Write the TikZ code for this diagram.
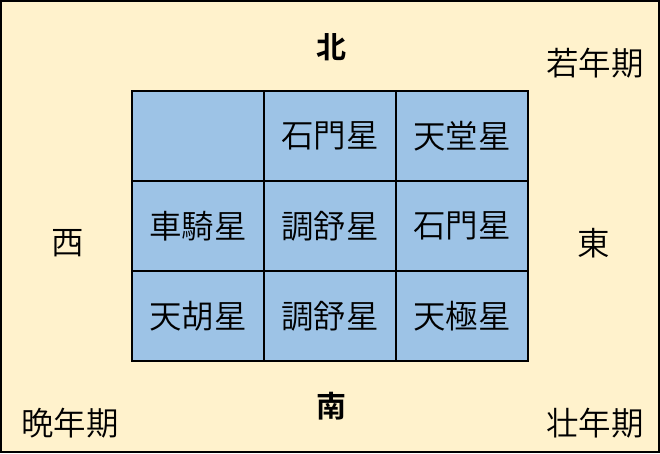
\documentclass[tikz,border=0pt]{standalone}
\usepackage{fontspec}
\newfontfamily\jpfont{Noto Sans CJK JP DemiLight}[BoldFont={Noto Sans CJK JP Bold}]
\usepackage{xcolor}
\definecolor{paper}{HTML}{FFF2CC}
\definecolor{cellblue}{HTML}{9DC3E6}
\usepackage{tikz}
\usetikzlibrary{positioning}
\tikzset{
  cell/.style={draw=black,line width=2pt,fill=cellblue,minimum width=132pt,minimum height=90pt,inner sep=0pt,font=\jpfont\fontsize{32.5}{38}\selectfont},
  label/.style={inner sep=0pt,font=\jpfont\fontsize{32.5}{38}\selectfont},
}

\begin{document}
\begin{tikzpicture}[x=1pt,y=-1pt]

\useasboundingbox (0, 0) rectangle (660, 453);
\draw[fill=paper,line width=2pt] (1, 1) rectangle (659, 452);

% grid of stars
\foreach \r/\c/\txt in {1/1/{}, 1/2/石門星, 1/3/天堂星,
                        2/1/車騎星, 2/2/調舒星, 2/3/石門星,
                        3/1/天胡星, 3/2/調舒星, 3/3/天極星}
  \node[cell] (c\r\c) at (66+132*\c, 46+90*\r) {\txt};

\node[label,font=\jpfont\bfseries\fontsize{30}{36}\selectfont] (north) at (331, 47) {北};
\node[label,font=\jpfont\bfseries\fontsize{30}{36}\selectfont] (south) at (331, 406) {南};
\node[label] (west) at (68, 243) {西};
\node[label] (east) at (594, 243) {東};

\node[label] (young) at (595, 63) {若年期};
\node[label] (late) at (70, 423) {晩年期};
\node[label] (prime) at (595, 423) {壮年期};

\end{tikzpicture}
\end{document}
